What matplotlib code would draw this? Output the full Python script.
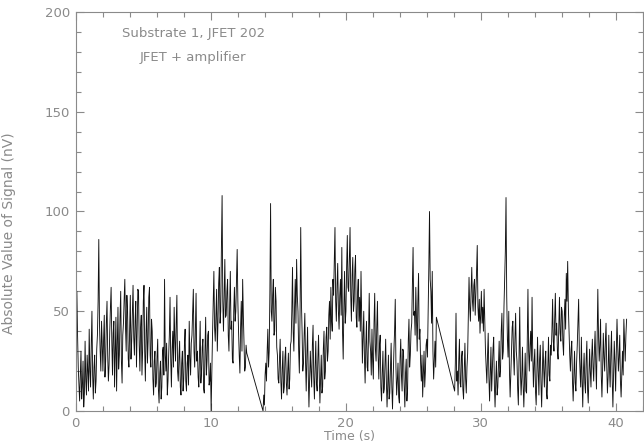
import numpy as np
import matplotlib
matplotlib.use('Agg')
import matplotlib.pyplot as plt
from matplotlib.ticker import MultipleLocator

# sampling step of the recorder (s) and start time of each recorded stretch
dt = 0.0507
start_a = 0.0
start_b = 13.88
start_c = 28.06

# |signal| in nV (one row ~ one second)
sig_a = [58, 45, 60, 38, 22, 14, 5, 18, 30, 6, 12, 25, 2, 9, 35, 15, 8, 28, 20, 10,
         41, 20, 12, 33, 50, 18, 6, 22, 28, 9, 15, 31, 38, 55, 86, 44, 30, 20, 45, 34,
         20, 36, 48, 17, 25, 44, 55, 28, 15, 23, 40, 52, 62, 35, 18, 39, 45, 12, 30, 47,
         10, 33, 52, 21, 28, 47, 60, 25, 14, 38, 44, 56, 66, 42, 30, 58, 50, 26, 22, 41,
         58, 26, 35, 50, 63, 37, 28, 45, 55, 22, 40, 61, 60, 33, 20, 42, 48, 18, 30, 55,
         63, 30, 15, 39, 52, 24, 35, 57, 62, 28, 22, 46, 40, 16, 8, 25, 30, 12, 14, 27,
         36, 11, 4, 19, 25, 6, 12, 30, 32, 18, 66, 28, 20, 34, 8, 15, 28, 38, 57, 26,
         12, 31, 40, 22, 52, 36, 25, 44, 58, 20, 15, 27, 35, 12, 8, 24, 30, 10, 16, 33,
         41, 15, 10, 24, 28, 13, 45, 27, 18, 34, 38, 50, 61, 30, 22, 42, 59, 25, 30, 17,
         12, 28, 45, 14, 20, 32, 36, 11, 9, 30, 47, 18, 25, 38, 40, 13, 15, 24, 0, 20,
         38, 55, 70, 42, 35, 48, 61, 30, 45, 64, 72, 44, 50, 82, 108, 55, 40, 58, 76, 47,
         48, 60, 66, 38, 30, 52, 70, 41, 45, 26, 24, 50, 62, 45, 50, 66, 81, 55, 40, 28,
         19, 42, 55, 30, 66, 48, 35, 20, 22, 33, 29]

sig_b = [0, 8, 3, 18, 24,
         15, 30, 41, 22, 30, 60, 104, 50, 45, 58, 66, 38, 40, 62, 55, 32, 28, 16, 14, 26,
         36, 15, 6, 21, 30, 9, 12, 27, 32, 14, 8, 20, 29, 11, 16, 33, 35, 50, 72, 40,
         30, 52, 66, 44, 76, 58, 50, 30, 19, 48, 92, 55, 40, 20, 24, 38, 49, 25, 10, 28,
         42, 18, 2, 15, 30, 20, 12, 33, 43, 17, 6, 22, 35, 14, 10, 26, 38, 19, 4, 16,
         28, 9, 12, 31, 40, 16, 20, 37, 42, 25, 30, 48, 55, 36, 62, 45, 40, 66, 58, 75,
         92, 55, 45, 63, 74, 50, 41, 58, 66, 48, 82, 40, 26, 52, 70, 44, 50, 72, 88, 62,
         60, 75, 92, 58, 45, 68, 77, 50, 55, 71, 78, 47, 42, 60, 66, 45, 57, 40, 70, 48,
         24, 38, 50, 27, 14, 33, 45, 22, 20, 41, 59, 35, 30, 18, 41, 25, 16, 44, 59, 31,
         25, 42, 55, 28, 16, 33, 38, 12, 5, 19, 30, 9, 11, 24, 36, 15, 2, 13, 28, 6,
         9, 21, 34, 12, 1, 17, 30, 40, 56, 22, 8, 15, 24, 7, 4, 26, 36, 18, 10, 31,
         30, 13, 2, 19, 26, 5, 11, 35, 46, 22, 28, 40, 44, 64, 82, 48, 50, 38, 62, 45,
         30, 55, 69, 36, 41, 24, 15, 28, 7, 18, 30, 12, 20, 33, 36, 27, 50, 72, 100, 66,
         60, 44, 70, 30, 16, 25, 35, 22, 47]

sig_c = [10, 24, 49, 15, 20,
         8, 25, 36, 14, 12, 27, 30, 11, 6, 20, 34, 16, 9, 22, 29, 48, 67, 52, 45, 60,
         72, 55, 50, 63, 66, 48, 59, 70, 83, 52, 45, 56, 39, 48, 60, 44, 52, 40, 61, 46,
         30, 22, 14, 28, 39, 17, 5, 19, 32, 10, 20, 31, 37, 13, 2, 15, 25, 8, 12, 24,
         35, 17, 21, 40, 49, 26, 30, 52, 66, 80, 107, 58, 36, 27, 50, 20, 7, 18, 30, 42,
         45, 27, 18, 36, 49, 30, 25, 11, 3, 26, 52, 20, 8, 17, 32, 13, 2, 15, 29, 10,
         9, 35, 61, 30, 20, 33, 40, 25, 57, 28, 12, 24, 31, 10, 3, 18, 37, 20, 8, 26,
         33, 14, 2, 19, 35, 21, 12, 25, 30, 9, 6, 22, 37, 18, 15, 33, 28, 40, 56, 35,
         30, 46, 59, 38, 44, 30, 26, 42, 57, 39, 35, 52, 50, 34, 28, 47, 56, 41, 69, 55,
         75, 52, 40, 28, 20, 31, 35, 15, 5, 18, 30, 14, 10, 24, 33, 45, 56, 30, 20, 12,
         37, 16, 2, 20, 29, 14, 9, 26, 35, 11, 4, 17, 31, 20, 12, 27, 36, 22, 15, 30,
         40, 24, 11, 35, 61, 38, 25, 33, 46, 18, 7, 21, 39, 27, 20, 35, 44, 23, 9, 17,
         38, 21, 12, 29, 40, 16, 2, 18, 35, 24, 10, 30, 46, 33, 20, 27, 38, 15, 7, 19,
         30, 18, 46, 36, 25, 38, 46]

label1 = 'Substrate 1, JFET 202'
label2 = 'JFET + amplifier'

# stitch the stretches together (gaps are bridged by a straight line)
t = np.concatenate([start_a + dt * np.arange(len(sig_a)),
                    start_b + dt * np.arange(len(sig_b)),
                    start_c + dt * np.arange(len(sig_c))])
sig = np.concatenate([sig_a, sig_b, sig_c])

grey = '#8a8a8a'
plt.rcParams['font.family'] = ['DejaVu Sans']

fig = plt.figure(figsize=(6.44, 4.43), dpi=100)
ax = fig.add_axes([75.5 / 644, 32 / 443, 567.5 / 644, 399 / 443])

ax.plot(t, sig, color='#111111', lw=0.65)

ax.set_xlim(0, 42)
ax.set_ylim(0, 200)
ax.xaxis.set_major_locator(MultipleLocator(10))
ax.xaxis.set_minor_locator(MultipleLocator(2))
ax.yaxis.set_major_locator(MultipleLocator(50))
ax.yaxis.set_minor_locator(MultipleLocator(10))
ax.tick_params(which='both', direction='in', top=True, right=True,
               color=grey, labelcolor=grey, labelsize=9.5, width=0.8)
ax.tick_params(which='major', length=6, pad=4)
ax.tick_params(which='minor', length=3.5)
for s in ax.spines.values():
    s.set_color(grey)
    s.set_linewidth(0.8)

ax.text(3.44, 189, label1, color=grey, fontsize=9.5, va='center', ha='left')
ax.text(4.77, 177, label2, color=grey, fontsize=9.5, va='center', ha='left')

fig.text(349 / 644, 0, 'Time (s)', color=grey, fontsize=9,
         ha='center', va='bottom')
fig.text(9 / 644, 210 / 443, 'Absolute Value of Signal (nV)', color=grey,
         fontsize=10, ha='center', va='center', rotation=90)

fig.savefig('out.png', dpi=100)
